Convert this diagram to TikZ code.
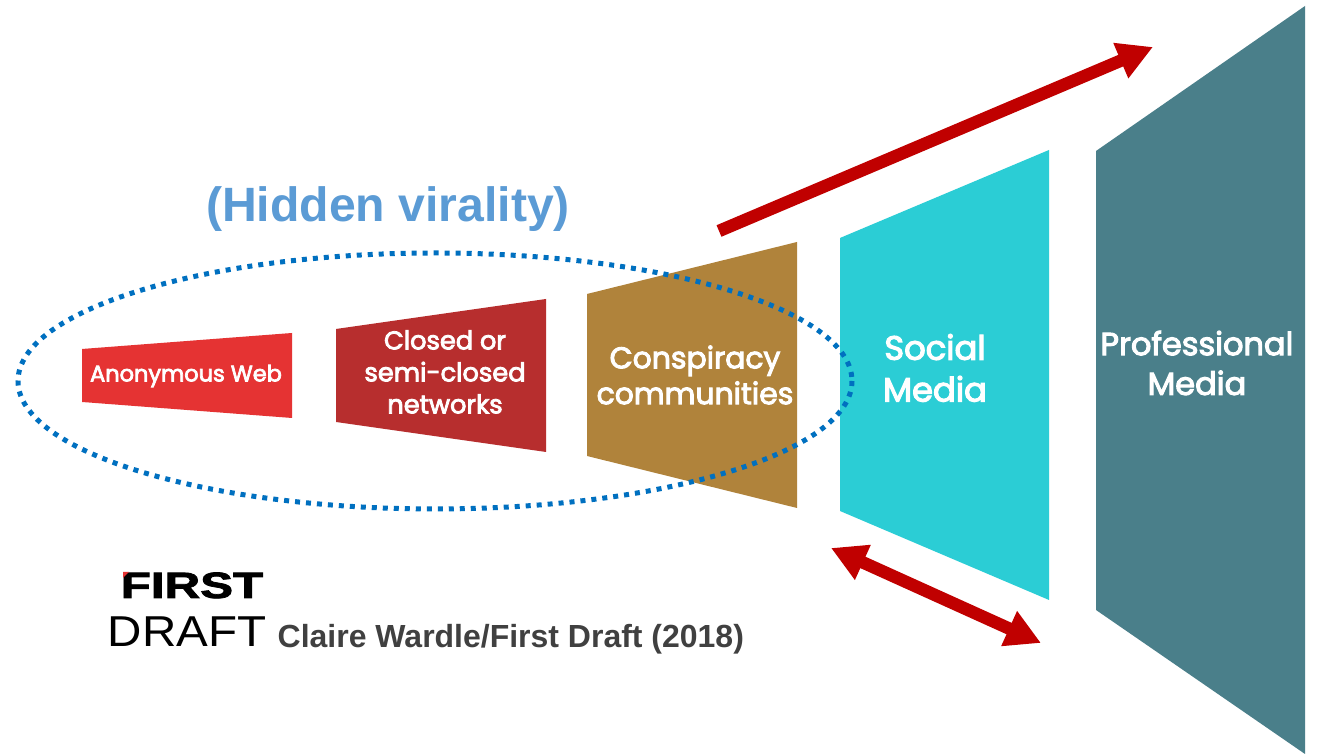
\documentclass[tikz,border=0pt]{standalone}
\usepackage{fontspec}
\setmainfont{Liberation Sans}
\newfontfamily\boxfont{Poppins}[FakeBold=3.2]
\newfontfamily\logofont{Liberation Sans}[FakeBold=2]
\usetikzlibrary{calc}
\usetikzlibrary{positioning}
\usetikzlibrary{arrows.meta}
\definecolor{anonred}{HTML}{E53333}
\definecolor{closedred}{HTML}{B72E2E}
\definecolor{conspbrown}{HTML}{B0833B}
\definecolor{socialcyan}{HTML}{2BCDD5}
\definecolor{profteal}{HTML}{4A7F8A}
\definecolor{arrowred}{HTML}{C00000}
\definecolor{dotblue}{HTML}{0070C0}
\definecolor{hiddenblue}{HTML}{5B9BD5}
\definecolor{creditgrey}{HTML}{404040}

\begin{document}
\begin{tikzpicture}[x=0.1mm,y=-0.1mm,
  >={Triangle[length=3.5mm,width=3.6mm]},
  stage/.style={text=white,align=center,inner sep=0pt},
  spread/.style={arrowred,line width=1.25mm}]
\fill[white] (0,0) rectangle (1317,754);
\foreach \xa/\ya/\yb/\xb/\yc/\yd/\col in {82/349/402/292/333/418/anonred,
		336/329/422/546/299/452/closedred,
		587/294/456/797/242/508/conspbrown,
		840/238/511/1049/150/600/socialcyan,
		1096/151/610/1305/6/754/profteal}{
		\fill[\col] (\xa,\ya) -- (\xb,\yc) -- (\xb,\yd) -- (\xa,\yb) -- cycle;
}
\node[stage,font={\boxfont\fontsize{6.4}{8}\selectfont}] (anon) at (186,376) {Anonymous Web};
\node[stage,font={\boxfont\fontsize{7.3}{9.1}\selectfont}] (closed) at (445,372) {Closed or\\semi-closed\\networks};
\node[stage,font={\boxfont\fontsize{8.5}{10.2}\selectfont}] (consp) at (695,375) {Conspiracy\\communities};
\node[stage,font={\boxfont\fontsize{9.6}{11.9}\selectfont}] (social) at (935,368) {Social\\Media};
\node[stage,font={\boxfont\fontsize{9.1}{11.3}\selectfont}] (prof) at (1197,363) {Professional\\Media};
\draw[dotblue,line width=0.5mm,dash pattern=on 0.5mm off 0.6mm] (435,381) ellipse [x radius=417,y radius=128];
\node[hiddenblue,anchor=base,inner sep=0pt,font=\bfseries\fontsize{13.7}{16}\selectfont] (hidden) at (388,222) {(Hidden virality)};
\coordinate (upfrom) at (719,231);
\coordinate (upto) at (1153,47);
\coordinate (backfrom) at (831,548);
\coordinate (backto) at (1041,643);
\draw[spread,->] (upfrom) -- (upto);
\draw[spread,<->] (backfrom) -- (backto);
\node[anchor=base west,inner sep=0pt,font=\logofont\bfseries\fontsize{10.4}{11}\selectfont] (first) at (120,598) {\scalebox{1.35}[1]{FIRST}};
\fill[anonred] (123,572) -- (129,572) -- (123,578) -- cycle;
\node[anchor=base west,inner sep=0pt,font=\fontsize{12.3}{14}\selectfont] (draft) at (107,647) {\scalebox{1.1}[1]{DRAFT}};
\node[anchor=base west,inner sep=0pt,creditgrey,font=\bfseries\fontsize{9.1}{11}\selectfont] (credit) at (277,648) {Claire Wardle/First Draft (2018)};
\end{tikzpicture}
\end{document}
